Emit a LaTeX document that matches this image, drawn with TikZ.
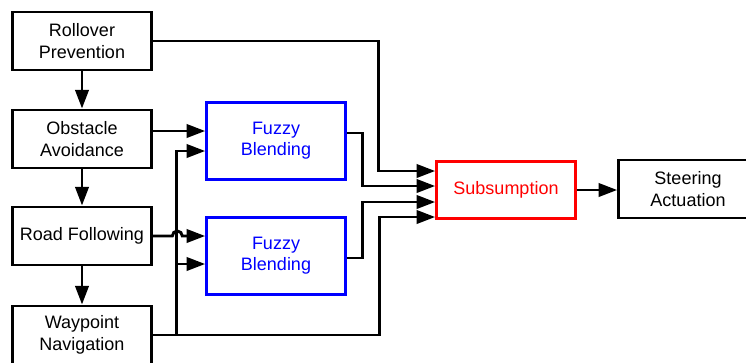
\documentclass[tikz,border=0pt]{standalone}
\usepackage{fontspec}
\setmainfont{Liberation Sans}
\usepackage{tikz}
\usetikzlibrary{arrows.meta, positioning, calc}

\begin{document}
\begin{tikzpicture}[
  x=0.75pt, y=-0.75pt,
  box/.style     = {rectangle, draw=black, line width=2.2pt, fill=white, align=center,
                    minimum width=104pt, minimum height=43.5pt, inner sep=0,
                    font=\fontsize{13.5}{16}\selectfont},
  fuzzbox/.style = {box, draw=blue, text=blue, minimum height=58pt},
  subbox/.style  = {box, draw=red, text=red, minimum height=43pt},
  wire/.style    = {line width=2.2pt, -{Triangle[length=14pt, width=10pt]}},
]
\useasboundingbox (0,0) rectangle (746,362);
% ── behaviours ──
\node[box] (ro) at (82,41)  {Rollover\\Prevention};
\node[box] (ob) at (82,139) {Obstacle\\Avoidance};
\node[box] (rf) at (82,236) {Road Following};
\node[box] (wp) at (82,335) {Waypoint\\Navigation};
% ── arbitration ──
\node[fuzzbox] (fb1) at (276,141) {Fuzzy\\Blending};
\node[fuzzbox] (fb2) at (276,256) {Fuzzy\\Blending};
\node[subbox]  (sub) at (506,190) {Subsumption};
\node[box]     (st)  at (688,189) {Steering\\Actuation};
% ── priority chain ──
\draw[wire] (ro) -- (ob);
\draw[wire] (ob) -- (rf);
\draw[wire] (rf) -- (wp);
% ── into the blenders ──
\coordinate (tap) at ($(wp.east)+(24,0)$);
\draw[wire] ($(ob.east)+(0,-8)$) -- ($(fb1.west)+(0,-10)$);
\draw[line width=2.2pt] (wp.east) -- (tap);
\draw[wire] (tap) |- ($(fb1.west)+(0,10)$);
\draw[wire] (tap) |- ($(fb2.west)+(0,8)$);
\draw[wire] (rf.east) -- ++(19.5,0) arc[start angle=180, end angle=0, radius=3.75pt]
            -- ($(fb2.west)+(0,-20)$);
% ── into subsumption ──
\draw[wire] (ro.east) -| ($(sub.west)+(-57,-19)$) -- ($(sub.west)+(0,-19)$);
\draw[wire] ($(fb1.east)+(0,-8)$) -| ($(sub.west)+(-73,-4)$) -- ($(sub.west)+(0,-4)$);
\draw[wire] ($(fb2.east)+(0,2)$) -| ($(sub.west)+(-73,12)$) -- ($(sub.west)+(0,12)$);
\draw[wire] (tap) -| ($(sub.west)+(-56,27)$) -- ($(sub.west)+(0,27)$);
\draw[wire] (sub.east) -- (sub.east -| st.west);
\end{tikzpicture}
\end{document}
